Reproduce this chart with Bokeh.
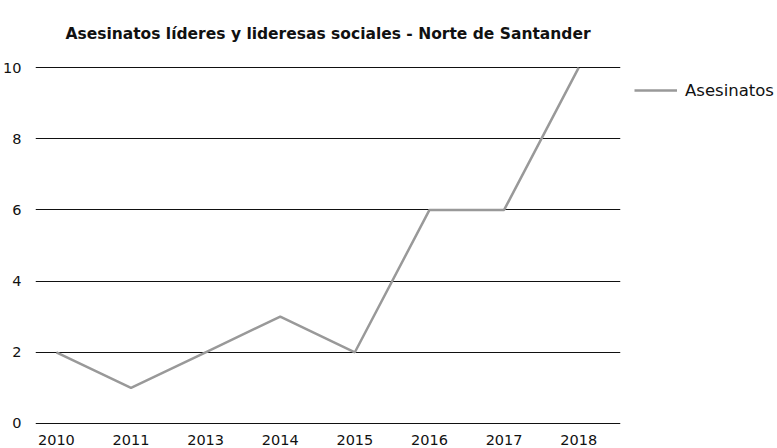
from bokeh.plotting import figure
from bokeh.models import Range1d, FixedTicker, Legend, LegendItem
from bokeh.embed import file_html
from bokeh.resources import INLINE

years = ["2010", "2011", "2013", "2014", "2015", "2016", "2017", "2018"]
asesinatos = [2, 1, 2, 3, 2, 6, 6, 10]
y_ticks = [0, 2, 4, 6, 8, 10]

FONT = "DejaVu Sans"
xs = list(range(len(years)))

p = figure(width=769, height=440, output_backend="svg", toolbar_location=None,
           x_range=Range1d(-0.28, 7.56), y_range=Range1d(-0.03, 10.03),
           frame_width=585, frame_height=358,
           min_border_left=27, min_border_right=157, min_border_top=66, min_border_bottom=22,
           title="Asesinatos líderes y lideresas sociales - Norte de Santander")
p.outline_line_color = None
p.background_fill_color = "white"
p.border_fill_color = "white"

p.title.text_font = FONT
p.title.text_font_size = "15.5px"
p.title.text_font_style = "bold"
p.title.text_color = "#111111"
p.title.align = "center"
p.title.vertical_align = "top"
p.title.standoff = 44

r = p.line(xs, asesinatos, line_color="#999999", line_width=2.5)

p.xaxis.ticker = FixedTicker(ticks=xs)
p.xaxis.major_label_overrides = {i: y for i, y in enumerate(years)}
p.yaxis.ticker = FixedTicker(ticks=y_ticks)
for ax in (p.xaxis, p.yaxis):
    ax.axis_line_color = None
    ax.major_tick_line_color = None
    ax.minor_tick_line_color = None
    ax.major_label_text_font = FONT
    ax.major_label_text_font_size = "14.5px"
    ax.major_label_text_color = "#111111"
p.xaxis.major_label_standoff = 4
p.yaxis.major_label_standoff = 8

p.xgrid.grid_line_color = None
p.ygrid.grid_line_color = "#111111"
p.ygrid.grid_line_width = 1
p.ygrid.ticker = FixedTicker(ticks=y_ticks)

legend = Legend(items=[LegendItem(label="Asesinatos", renderers=[r])],
                location=(14, 324), border_line_color=None, background_fill_alpha=0,
                glyph_width=43, label_standoff=8, margin=0, padding=0,
                label_text_font=FONT, label_text_font_size="16.5px", label_text_color="#111111")
p.add_layout(legend, "right")

open("out.html", "w").write(file_html(p, INLINE))
